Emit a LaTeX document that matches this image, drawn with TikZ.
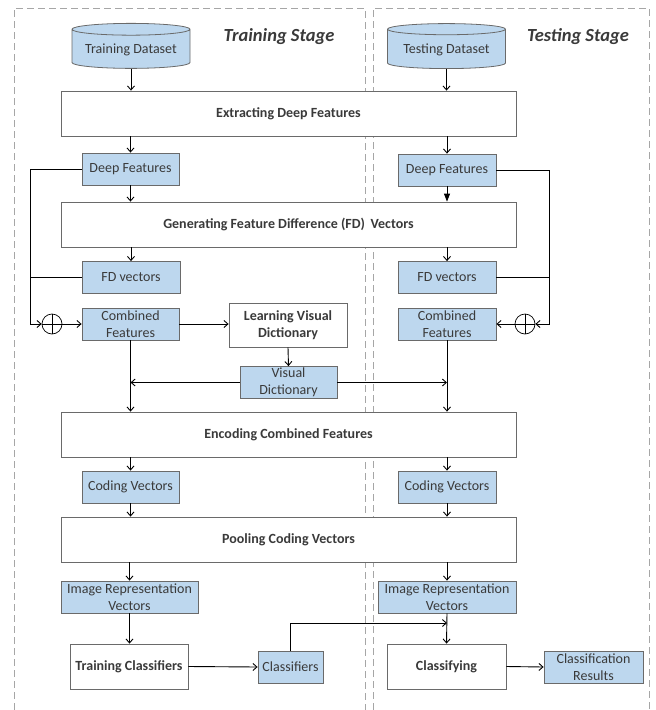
\documentclass[tikz,border=0pt]{standalone}
\usepackage{fontspec}
\setmainfont{Carlito}
\usepackage{xcolor}
\usepackage{tikz}
\usetikzlibrary{arrows.meta,shapes.geometric,calc,positioning}
\definecolor{caja}{HTML}{BDD7EE}
\definecolor{borde}{HTML}{6A6A6A}
\definecolor{texto}{HTML}{3A3A3A}
\tikzset{
  txt/.style={font=\fontsize{14}{17}\selectfont,text=texto,align=center},
  proc/.style={txt,font=\fontsize{14}{17}\selectfont\bfseries,draw=borde,line width=0.8pt,fill=white,inner sep=2pt},
  ancho/.style={proc,minimum width=455pt,minimum height=45pt},
  feat/.style={txt,draw=borde,line width=0.8pt,fill=caja,inner sep=1pt,minimum height=32pt},
  db/.style={txt,cylinder,shape border rotate=90,aspect=0.12,draw=borde,line width=0.8pt,fill=caja,minimum width=118pt,minimum height=45pt},
  suma/.style={circle,draw=black,line width=0.7pt,minimum size=20pt,inner sep=0pt,
    path picture={\draw[line width=0.6pt] (path picture bounding box.north) -- (path picture bounding box.south)
      (path picture bounding box.west) -- (path picture bounding box.east);}},
  etapa/.style={font=\fontsize{18.5}{21}\selectfont\bfseries\itshape,text=texto},
  lnk/.style={-{Straight Barb[length=4pt,width=7pt]},line width=0.9pt},
  marco/.style={gray!70,line width=0.8pt,dash pattern=on 7pt off 4pt}
}

\begin{document}
\begin{tikzpicture}[x=1pt,y=-1pt]
\useasboundingbox (0,0) rectangle (656,710);
% frames
\draw[marco] (14,710) -- (14,8) -- (365,8) -- (365,710);
\draw[marco] (373,710) -- (373,8) -- (649,8) -- (649,710);
% shared steps
\node[ancho] (extract) at (288.5,113.5) {Extracting Deep Features};
\node[ancho] (fdgen) at (288.5,224.5) {Generating Feature Difference (FD)\, Vectors};
\node[ancho] (encode) at (288.5,434.5) {Encoding Combined Features};
\node[ancho] (pool) at (288.5,539.5) {Pooling Coding Vectors};
% training stage
\node[etapa] (trstage) at (279,37) {Training Stage};
\node[db] (trdata) at (131,50) {Training Dataset};
\node[feat,minimum width=97pt] (trdeep) at (130.5,169) {Deep Features};
\node[feat,minimum width=98pt] (trfd) at (131,277.5) {FD vectors};
\node[feat,minimum width=97pt] (trcomb) at (130.5,324) {Combined\\Features};
\node[suma] (trsum) at (52,324) {};
\node[proc,minimum width=118pt,minimum height=44pt] (learn) at (288,325) {Learning Visual\\Dictionary};
\node[feat,minimum width=97pt] (vdict) at (288.5,382.5) {Visual\\Dictionary};
\node[feat,minimum width=97pt] (trcode) at (130.5,487) {Coding Vectors};
\node[feat,minimum width=137pt] (trrep) at (129.5,597) {Image Representation\\Vectors};
\node[proc,minimum width=118pt,minimum height=45pt] (trclf) at (129,666.5) {Training Classifiers};
\node[feat,minimum width=65pt] (clf) at (290.5,667) {Classifiers};
% testing stage
\node[etapa] (testage) at (578,37) {Testing Stage};
\node[db] (tedata) at (446.5,50) {Testing Dataset};
\node[feat,minimum width=98pt] (tedeep) at (447,170) {Deep Features};
\node[feat,minimum width=98pt] (tefd) at (447,277.5) {FD vectors};
\node[feat,minimum width=98pt] (tecomb) at (447,324) {Combined\\Features};
\node[suma] (tesum) at (525,324) {};
\node[feat,minimum width=98pt] (tecode) at (447,487) {Coding Vectors};
\node[feat,minimum width=138pt] (terep) at (447,597) {Image Representation\\Vectors};
\node[proc,minimum width=119pt,minimum height=45pt] (classify) at (446.5,666.5) {Classifying};
\node[feat,minimum width=99pt] (result) at (593.5,667) {Classification\\Results};
\coordinate (lbus) at (30,169);
\coordinate (rbus) at (549,170);
\coordinate (unir) at (447,623);
% connectors, training
\draw[lnk] (trdata.bottom) -- (trdata.bottom |- extract.north);
\draw[lnk] (trdeep |- extract.south) -- (trdeep.north);
\draw[lnk] (trdeep.south) -- (trdeep.south |- fdgen.north);
\draw[lnk] (trfd |- fdgen.south) -- (trfd.north);
\draw[lnk] (trdeep.west) -- (lbus) |- (trsum.west);
\draw[line width=0.9pt] (trfd.west) -- (trfd.west -| lbus);
\draw[lnk] (trsum.east) -- (trcomb.west);
\draw[lnk] (trcomb.east) -- (trcomb.east -| learn.west);
\draw[lnk] (learn.south) -- (vdict.north);
\draw[lnk] (trcomb.south) -- (trcomb.south |- encode.north);
\draw[lnk] (vdict.west) -- (vdict.west -| trcomb.south);
\draw[lnk] (trcode |- encode.south) -- (trcode.north);
\draw[lnk] (trcode.south) -- (trcode.south |- pool.north);
\draw[lnk] (trrep |- pool.south) -- (trrep.north);
\draw[lnk] (trrep.south) -- (trrep.south |- trclf.north);
\draw[lnk] (trclf.east) -- (clf.west);
% connectors, testing
\draw[lnk] (tedata.bottom) -- (tedata.bottom |- extract.north);
\draw[lnk] (tedeep |- extract.south) -- (tedeep.north);
\draw[-{Triangle[length=8pt,width=6pt]},line width=0.9pt] (tedeep.south) -- (tedeep.south |- fdgen.north);
\draw[lnk] (tefd |- fdgen.south) -- (tefd.north);
\draw[lnk] (tedeep.east) -- (rbus) |- (tesum.east);
\draw[line width=0.9pt] (tefd.east) -- (tefd.east -| rbus);
\draw[lnk] (tesum.west) -- (tecomb.east);
\draw[lnk] (vdict.east) -- (vdict.east -| tecomb.south);
\draw[lnk] (tecomb.south) -- (tecomb.south |- encode.north);
\draw[lnk] (tecode |- encode.south) -- (tecode.north);
\draw[lnk] (tecode.south) -- (tecode.south |- pool.north);
\draw[lnk] (terep |- pool.south) -- (terep.north);
\draw[lnk] (terep.south) -- (classify.north);
\draw[lnk] (clf.north) |- (unir);
\draw[lnk] (classify.east) -- (result.west);
\end{tikzpicture}
\end{document}
